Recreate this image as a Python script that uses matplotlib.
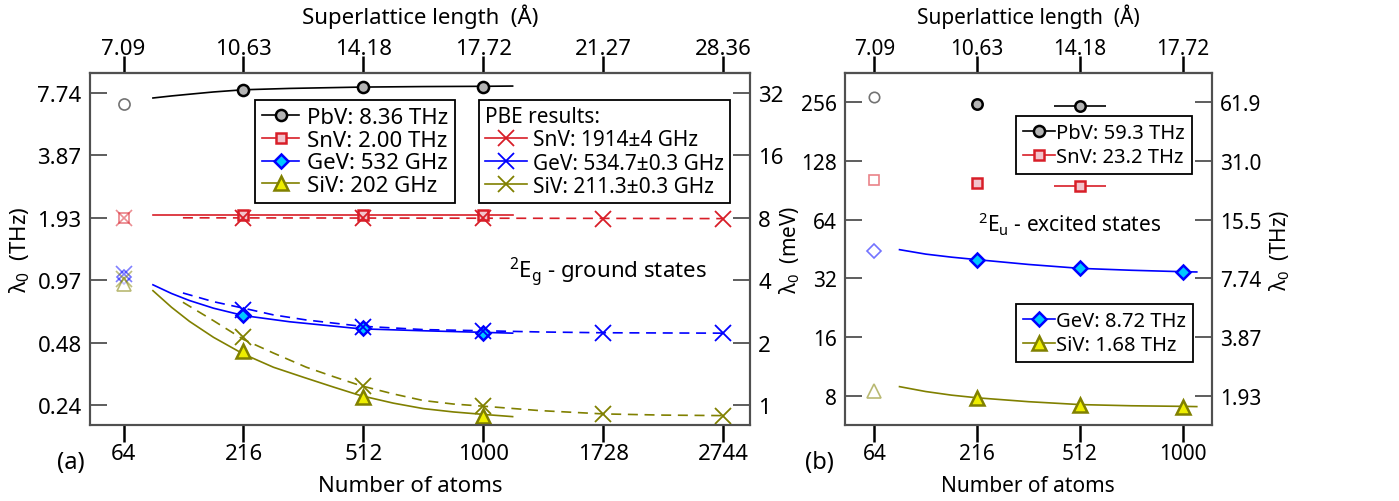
import numpy as np
import matplotlib
matplotlib.use('Agg')
import matplotlib.pyplot as plt
from matplotlib.lines import Line2D
from matplotlib.ticker import NullLocator

plt.rcParams['font.family'] = ['Noto Sans', 'DejaVu Sans']
plt.rcParams['mathtext.fontset'] = 'custom'
plt.rcParams['mathtext.rm'] = 'Noto Sans'
plt.rcParams['mathtext.it'] = 'Noto Sans:italic'
plt.rcParams['font.size'] = 16

# x axis = supercell edge (conventional cells), atoms = 8*edge^3
edge_a = [4, 6, 8, 10, 12, 14]
atoms_a = ['64', '216', '512', '1000', '1728', '2744']
length_a = ['7.09', '10.63', '14.18', '17.72', '21.27', '28.36']
edge_b = [4, 6, 8, 10]
atoms_b = ['64', '216', '512', '1000']
length_b = ['7.09', '10.63', '14.18', '17.72']

# energy ticks (meV) and the THz equivalents
mev_ticks_a = [1, 2, 4, 8, 16, 32]
thz_labels_a = ['0.24', '0.48', '0.97', '1.93', '3.87', '7.74']
mev_ticks_b = [8, 16, 32, 64, 128, 256]
thz_labels_b = ['1.93', '3.87', '7.74', '15.5', '31.0', '61.9']

# (a) ground states, HSE (meV)
edge_hse = [6, 8, 10]
pbv_hse = [33.2, 34.1, 34.2]
snv_hse = [8.25, 8.25, 8.3]
gev_hse = [2.73, 2.34, 2.22]
siv_hse = [1.82, 1.09, 0.888]
pbv_64, snv_64, gev_64, siv_64 = 28.5, 8.0, 4.15, 3.83

# (a) PBE
edge_pbe = [6, 8, 10, 12, 14]
snv_pbe = [7.98, 7.98, 7.98, 7.93, 7.93]
gev_pbe = [2.87, 2.39, 2.28, 2.23, 2.22]
siv_pbe = [2.12, 1.24, 0.986, 0.905, 0.888]
snv_pbe_64, gev_pbe_64, siv_pbe_64 = 8.0, 4.28, 4.05

# (a) fit curves
pbv_fit_x = [4.49, 4.8, 5.1, 5.5, 6.0, 6.77, 7.95, 9.0, 10.0, 10.49]
pbv_fit = [30.3, 31.0, 31.6, 32.4, 33.2, 33.7, 34.2, 34.4, 34.5, 34.6]
snv_fit_x = [4.49, 10.49]
snv_fit = [8.3, 8.3]
gev_fit_x = [4.49, 4.8, 5.1, 5.5, 6.0, 6.77, 7.95, 9.0, 10.0, 10.49]
gev_fit = [3.80, 3.45, 3.19, 2.93, 2.70, 2.52, 2.33, 2.28, 2.24, 2.22]
siv_fit_x = [4.49, 4.8, 5.1, 5.5, 6.0, 6.5, 7.0, 7.5, 7.95, 8.5, 9.0, 9.5, 10.0, 10.49]
siv_fit = [3.56, 2.96, 2.53, 2.12, 1.76, 1.52, 1.36, 1.22, 1.11, 1.02, 0.96, 0.925, 0.90, 0.878]
snv_pbe_fit_x = [4.99, 12.0, 14.0]
snv_pbe_fit = [8.0, 7.95, 7.93]
gev_pbe_fit_x = [4.99, 5.5, 6.0, 6.5, 7.05, 7.95, 9.0, 10.0, 10.94, 12.0, 14.0]
gev_pbe_fit = [3.47, 3.15, 2.93, 2.72, 2.57, 2.40, 2.31, 2.28, 2.25, 2.23, 2.22]
siv_pbe_fit_x = [4.99, 5.5, 6.0, 6.5, 7.05, 7.5, 7.95, 8.5, 9.0, 9.5, 10.0, 10.94, 12.0, 13.0, 14.0]
siv_pbe_fit = [3.13, 2.55, 2.07, 1.78, 1.52, 1.37, 1.24, 1.13, 1.05, 1.01, 0.986, 0.939, 0.905, 0.893, 0.888]

# (b) excited states (meV)
edge_ex_heavy = [6, 8]
pbv_ex = [251, 244]
snv_ex = [98.2, 95.0]
edge_ex = [6, 8, 10]
gev_ex = [39.9, 36.0, 34.3]
siv_ex = [7.76, 7.17, 7.0]
pbv_ex_64, snv_ex_64, gev_ex_64, siv_ex_64 = 274, 102.5, 44.3, 8.48
xerr_512 = 0.5
fit_edge_b = [4.49, 5.0, 5.5, 6.0, 7.0, 8.0, 9.0, 10.0, 10.27]
gev_ex_fit = [44.9, 42.6, 41.1, 39.9, 37.7, 36.0, 35.2, 34.6, 34.5]
siv_ex_fit = [8.9, 8.4, 8.05, 7.8, 7.45, 7.2, 7.1, 7.05, 7.03]

c_pb, f_pb = 'black', '#b4b4b4'
c_sn, f_sn = '#d81e28', '#f2c4cc'
c_ge, f_ge = '#0000ff', '#00c8ff'
c_si, f_si = '#808000', '#eeee00'
spine_c = '#505050'

fig = plt.figure(figsize=(13.99, 5.02), dpi=100)
ax = fig.add_axes([90/1399, 76/502, 660/1399, 352/502])
axb = fig.add_axes([845/1399, 76/502, 366.7/1399, 352/502])


def style(axis, edges, atoms, lengths, xlim, ylim, lticks, llabels, rticks, rlabels, fs):
    axis.set_yscale('log', base=2)
    axis.set_xlim(xlim)
    axis.set_ylim(ylim)
    axis.set_xticks(edges, labels=atoms)
    axis.set_yticks(lticks, labels=llabels)
    axis.yaxis.set_minor_locator(NullLocator())
    axis.xaxis.set_minor_locator(NullLocator())
    for s in axis.spines.values():
        s.set_color(spine_c)
        s.set_linewidth(1.5)
    axis.tick_params(axis='x', direction='out', length=12, width=1.8, color='black', pad=1, labelsize=fs)
    axis.tick_params(axis='y', direction='in', length=12, width=1.3, color=spine_c, pad=6, labelsize=fs)
    top = axis.secondary_xaxis('top')
    top.set_xticks(edges, labels=lengths)
    top.tick_params(direction='out', length=12, width=1.8, color='black', pad=-2, labelsize=fs)
    top.spines['top'].set_color(spine_c)
    top.spines['top'].set_linewidth(1.5)
    top.set_xlabel('Superlattice length  (Å)', labelpad=11, fontsize=fs)
    right = axis.twinx()
    right.set_yscale('log', base=2)
    right.set_ylim(ylim)
    right.set_yticks(rticks, labels=rlabels)
    right.yaxis.set_minor_locator(NullLocator())
    right.tick_params(axis='y', direction='in', length=12, width=1.3, color=spine_c, pad=6, labelsize=fs)
    for s in right.spines.values():
        s.set_color(spine_c)
        s.set_linewidth(1.5)
    return right


ra = style(ax, edge_a, atoms_a, length_a, (3.44, 14.45), (0.8, 40),
           mev_ticks_a, thz_labels_a, mev_ticks_a, [str(t) for t in mev_ticks_a], 16)
rb = style(axb, edge_b, atoms_b, length_b, (3.43, 10.56), (8/np.sqrt(2), 256*np.sqrt(2)),
           mev_ticks_b, [str(t) for t in mev_ticks_b], mev_ticks_b, thz_labels_b, 15)
ax.set_xlabel('Number of atoms', labelpad=8, x=0.485, fontsize=16)
axb.set_xlabel('Number of atoms', labelpad=8, fontsize=15)
ax.set_ylabel('λ$_0$  (THz)', labelpad=4, fontsize=16)
axb.set_ylabel('λ$_0$  (meV)', labelpad=-1, fontsize=15)
rb.set_ylabel('λ$_0$  (THz)', labelpad=4, fontsize=15)

ms = 8
mew = 1.8
faded = dict(mfc='white', alpha=0.55, mew=1.2, ls='none')

# ----- panel (a) -----
series = [(pbv_fit_x, pbv_fit, pbv_hse, pbv_64, c_pb, f_pb, 'o', ms),
          (snv_fit_x, snv_fit, snv_hse, snv_64, c_sn, f_sn, 's', ms - 0.5),
          (gev_fit_x, gev_fit, gev_hse, gev_64, c_ge, f_ge, 'D', ms - 1),
          (siv_fit_x, siv_fit, siv_hse, siv_64, c_si, f_si, '^', ms + 2)]
for fx, fit, vals, v64, c, f, m, s in series:
    ax.plot(fx, fit, color=c, lw=1.2)
    ax.plot(edge_hse, vals, ls='none', marker=m, ms=s, mfc=f, mec=c, mew=mew, zorder=5)
    ax.plot([4], [v64], marker=m, ms=s, mec=c, **faded)

pbe = [(snv_pbe_fit_x, snv_pbe_fit, snv_pbe, snv_pbe_64, c_sn),
       (gev_pbe_fit_x, gev_pbe_fit, gev_pbe, gev_pbe_64, c_ge),
       (siv_pbe_fit_x, siv_pbe_fit, siv_pbe, siv_pbe_64, c_si)]
for fx, fit, vals, v64, c in pbe:
    ax.plot(fx, fit, color=c, lw=1.2, ls=(0, (6, 4)))
    ax.plot(edge_pbe, vals, ls='none', marker='x', ms=11, mec=c, mew=1.3, zorder=6)
    ax.plot([4], [v64], marker='x', ms=11, mec=c, alpha=0.5, mew=1.2, ls='none')

h1 = [Line2D([], [], color=c, lw=1.2, marker=m, ms=s, mfc=f, mec=c, mew=mew)
      for _, _, _, _, c, f, m, s in series]
leg1 = ax.legend(h1, ['PbV: 8.36 THz', 'SnV: 2.00 THz', 'GeV: 532 GHz', 'SiV: 202 GHz'],
                 loc='upper left', bbox_to_anchor=(0.25, 0.923), borderaxespad=0,
                 fancybox=False, edgecolor='black', framealpha=1, handlelength=1.7,
                 handletextpad=0.35, labelspacing=0.08, borderpad=0.3, fontsize=16)
leg1.get_frame().set_linewidth(1.3)
ax.add_artist(leg1)
h2 = [Line2D([], [], color=c, lw=1.2, marker='x', ms=11, mec=c, mew=1.3)
      for _, _, _, _, c in pbe]
leg2 = ax.legend(h2, ['SnV: 1914±4 GHz', 'GeV: 534.7±0.3 GHz', 'SiV: 211.3±0.3 GHz'],
                 loc='upper left', bbox_to_anchor=(0.589, 0.923), borderaxespad=0,
                 title='PBE results:', alignment='left', title_fontsize=15,
                 fancybox=False, edgecolor='black', framealpha=1, handlelength=2.0,
                 handletextpad=0.3, labelspacing=0.1, borderpad=0.3, fontsize=15)
leg2.get_frame().set_linewidth(1.3)
ax.text(0.635, 0.4375, '$^2$E$_\\mathrm{g}$ - ground states', transform=ax.transAxes,
        va='center', ha='left', fontsize=16)

# ----- panel (b) -----
for vals, v64, c, f, m in [(pbv_ex, pbv_ex_64, c_pb, f_pb, 'o'), (snv_ex, snv_ex_64, c_sn, f_sn, 's')]:
    axb.plot(edge_ex_heavy[:1], vals[:1], ls='none', marker=m, ms=ms - 0.5, mfc=f, mec=c, mew=mew)
    axb.errorbar(edge_ex_heavy[1:], vals[1:], xerr=xerr_512, fmt=m, ms=ms - 0.5, mfc=f,
                 mec=c, mew=mew, ecolor=c, elinewidth=1.2, capsize=0)
    axb.plot([4], [v64], marker=m, ms=ms - 0.5, mec=c, **faded)
for fit, vals, v64, c, f, m, s in [(gev_ex_fit, gev_ex, gev_ex_64, c_ge, f_ge, 'D', ms - 1),
                                   (siv_ex_fit, siv_ex, siv_ex_64, c_si, f_si, '^', ms + 2)]:
    axb.plot(fit_edge_b, fit, color=c, lw=1.2)
    axb.plot(edge_ex, vals, ls='none', marker=m, ms=s, mfc=f, mec=c, mew=mew, zorder=5)
    axb.plot([4], [v64], marker=m, ms=s, mec=c, **faded)

hb1 = [Line2D([], [], color=c_pb, lw=1.2, marker='o', ms=ms, mfc=f_pb, mec=c_pb, mew=mew),
       Line2D([], [], color=c_sn, lw=1.2, marker='s', ms=ms - 0.5, mfc=f_sn, mec=c_sn, mew=mew)]
lb1 = axb.legend(hb1, ['PbV: 59.3 THz', 'SnV: 23.2 THz'], loc='upper left',
                 bbox_to_anchor=(0.4655, 0.877), borderaxespad=0, fancybox=False,
                 edgecolor='black', framealpha=1, handlelength=1.6, handletextpad=0.05,
                 labelspacing=0.2, borderpad=0.35, fontsize=14.5)
lb1.get_frame().set_linewidth(1.3)
axb.add_artist(lb1)
hb2 = [Line2D([], [], color=c_ge, lw=1.2, marker='D', ms=ms - 1, mfc=f_ge, mec=c_ge, mew=mew),
       Line2D([], [], color=c_si, lw=1.2, marker='^', ms=ms + 2, mfc=f_si, mec=c_si, mew=mew)]
lb2 = axb.legend(hb2, ['GeV: 8.72 THz', 'SiV: 1.68 THz'], loc='upper left',
                 bbox_to_anchor=(0.4655, 0.345), borderaxespad=0, fancybox=False,
                 edgecolor='black', framealpha=1, handlelength=1.6, handletextpad=0.05,
                 labelspacing=0.2, borderpad=0.35, fontsize=14.5)
lb2.get_frame().set_linewidth(1.3)
axb.text(0.363, 0.574, '$^2$E$_\\mathrm{u}$ - excited states', transform=axb.transAxes,
         va='center', ha='left', fontsize=15)

fig.text(71/1399, 1 - 463/502, '(a)', ha='center', va='center', fontsize=17)
fig.text(819/1399, 1 - 463/502, '(b)', ha='center', va='center', fontsize=17)

plt.savefig('out.png', dpi=100)
plt.close()
